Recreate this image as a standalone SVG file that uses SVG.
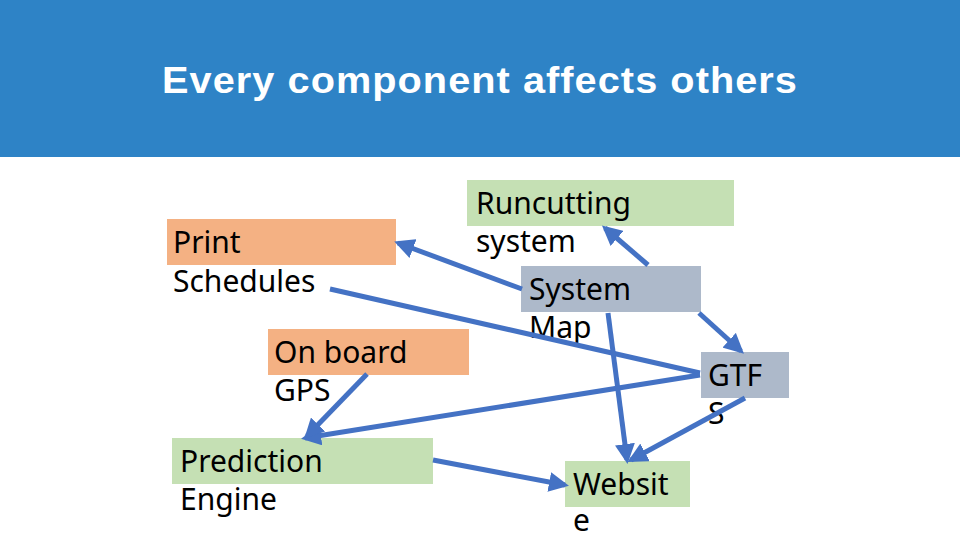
<svg xmlns="http://www.w3.org/2000/svg" width="960" height="540" viewBox="0 0 960 540">
<style>
.t{font-family:"Noto Sans","Open Sans",sans-serif;font-size:30px;fill:#000}
.o{fill:#F4B183}.g{fill:#C5E0B4}.b{fill:#ADB9CA}
.c{stroke:#4472C4;stroke-width:5;fill:none}
</style>
<defs><marker id="a" viewBox="0 0 10 10" refX="8" refY="5" markerWidth="4" markerHeight="4" orient="auto" markerUnits="strokeWidth"><path d="M0,0L10,5L0,10z" fill="#4472C4"/></marker></defs>
<rect width="960" height="540" fill="#fff"/>
<rect width="960" height="157" fill="#2E83C6"/>
<text x="480" y="93" text-anchor="middle" font-family="Liberation Sans,Arial,sans-serif" font-weight="bold" font-size="37" letter-spacing="1" fill="#fff" textLength="636" lengthAdjust="spacingAndGlyphs">Every component affects others</text>
<g id="print"><rect class="o" x="167" y="219" width="229" height="46"/><text class="t" x="173" y="253">Print</text><text class="t" x="173" y="292">Schedules</text></g>
<g id="gps"><rect class="o" x="268" y="329" width="201" height="46"/><text class="t" x="274" y="363">On board</text><text class="t" x="274" y="401">GPS</text></g>
<g id="pred"><rect class="g" x="172" y="438" width="261" height="46"/><text class="t" x="180" y="472">Prediction</text><text class="t" x="180" y="510">Engine</text></g>
<g id="run"><rect class="g" x="467" y="180" width="267" height="46"/><text class="t" x="476" y="214">Runcutting</text><text class="t" x="476" y="252">system</text></g>
<g id="map"><rect class="b" x="521" y="266" width="180" height="46"/><text class="t" x="529" y="300">System</text><text class="t" x="529" y="338">Map</text></g>
<g id="gtfs"><rect class="b" x="701" y="352" width="88" height="46"/><text class="t" x="708" y="386">GTF</text><text class="t" x="708" y="424">S</text></g>
<g id="web"><rect class="g" x="565" y="461" width="125" height="46"/><text class="t" x="573" y="495">Websit</text><text class="t" x="573" y="531">e</text></g>
<g id="connectors">
<line class="c" x1="522" y1="289" x2="398" y2="243" marker-end="url(#a)"/>
<line class="c" x1="330" y1="289" x2="700" y2="373"/>
<line class="c" x1="700" y1="375" x2="305" y2="438" marker-end="url(#a)"/>
<line class="c" x1="367" y1="374" x2="307" y2="436" marker-end="url(#a)"/>
<line class="c" x1="699" y1="313" x2="741" y2="351" marker-end="url(#a)"/>
<line class="c" x1="648" y1="265" x2="605" y2="228" marker-end="url(#a)"/>
<line class="c" x1="608" y1="313" x2="627" y2="460" marker-end="url(#a)"/>
<line class="c" x1="745" y1="398" x2="631" y2="460" marker-end="url(#a)"/>
<line class="c" x1="433" y1="460" x2="565" y2="485" marker-end="url(#a)"/>
</g>
</svg>
